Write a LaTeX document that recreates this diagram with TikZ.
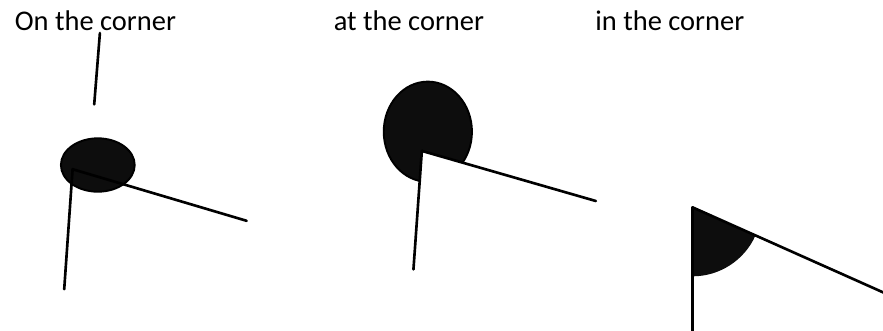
\documentclass[tikz,border=0pt]{standalone}
\usepackage{fontspec}
\setmainfont{Carlito}
\usepackage{tkz-euclide}
\definecolor{BlobClr}{rgb}{0.05,0.05,0.05}

\begin{document}
\begin{tikzpicture}
\useasboundingbox (0,0) rectangle (29.43,11);
\tkzSetUpLine[line width=2.5pt,color=black]

\tkzDefPoints{3.33/9.90/T,3.14/7.52/S,3.26/5.50/O,2.42/5.36/A,2.14/1.36/B,8.22/3.64/C}
\tkzDefPoints{14.26/6.61/P,14.06/5.97/D,13.78/2.02/E,19.86/4.30/F}
\tkzDefPoints{23.08/4.09/G,23.08/-0.05/H,29.67/1.15/K}

% on the corner
\draw[fill=BlobClr,line width=1.8pt] (O) ellipse [x radius=1.23,y radius=0.89];
\tkzDrawSegments(T,S A,B A,C)

% at the corner
\draw[fill=BlobClr,line width=1.8pt] (P) ellipse [x radius=1.47,y radius=1.67];
\tkzFillAngle[fill=white,size=2.6](E,D,F)
\tkzDrawSegments(D,E D,F)

% in the corner
\tkzFillAngle[fill=BlobClr,size=2.3](H,G,K)
\tkzDrawSegments(G,H G,K)

\node[anchor=base west,font=\fontsize{27}{32}\selectfont] (lblOn) at (0.37,9.98) {On the corner};
\node[anchor=base west,font=\fontsize{27}{32}\selectfont] (lblAt) at (11.0,9.98) {at the corner};
\node[anchor=base west,font=\fontsize{27}{32}\selectfont] (lblIn) at (19.72,9.98) {in the corner};

\end{tikzpicture}
\end{document}
